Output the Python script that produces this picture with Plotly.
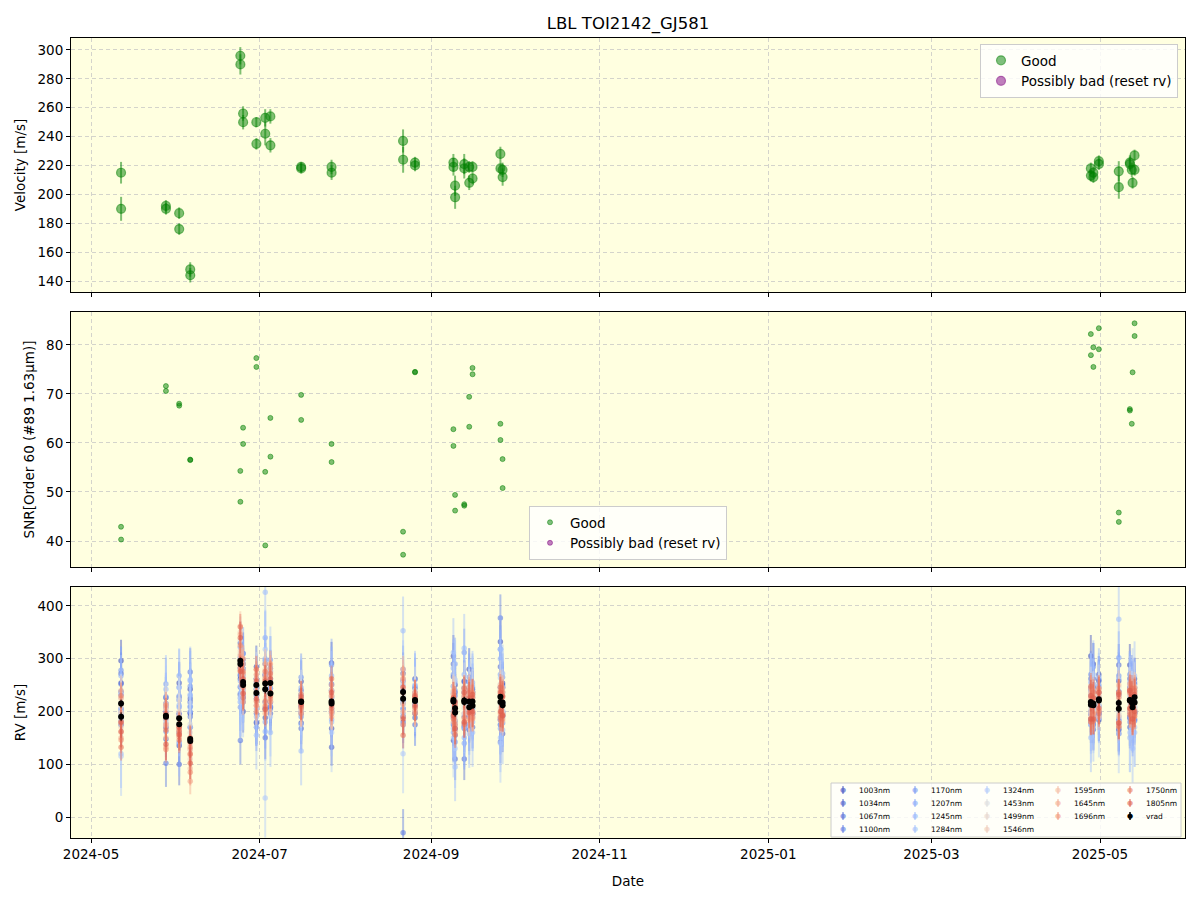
import plotly.graph_objects as go
from plotly.subplots import make_subplots

# ---------------- data ----------------
dates = [
    "2024-05-11 20:30", "2024-05-11 21:00", "2024-05-28 02:00", "2024-05-28 02:30",
    "2024-06-01 21:00", "2024-06-01 21:30", "2024-06-05 21:00", "2024-06-05 21:30",
    "2024-06-24 00:00", "2024-06-24 00:30", "2024-06-25 00:00", "2024-06-25 00:30",
    "2024-06-29 19:00", "2024-06-29 19:30", "2024-07-03 00:00", "2024-07-03 00:30",
    "2024-07-04 21:00", "2024-07-04 21:30", "2024-07-16 00:00", "2024-07-16 00:30",
    "2024-07-27 00:00", "2024-07-27 00:30", "2024-08-21 21:00", "2024-08-21 21:30",
    "2024-08-26 04:30", "2024-08-26 05:00", "2024-09-09 02:00", "2024-09-09 02:30",
    "2024-09-09 16:30", "2024-09-09 17:00", "2024-09-13 00:00", "2024-09-13 00:30",
    "2024-09-14 19:00", "2024-09-14 19:30", "2024-09-16 00:00", "2024-09-16 00:30",
    "2024-09-26 02:00", "2024-09-26 02:30", "2024-09-26 21:00", "2024-09-26 21:30",
    "2025-04-27 16:30", "2025-04-27 17:00", "2025-04-28 14:00", "2025-04-28 14:30",
    "2025-04-30 14:00", "2025-04-30 14:30", "2025-05-07 19:00", "2025-05-07 19:30",
    "2025-05-11 19:00", "2025-05-11 19:30", "2025-05-12 12:00", "2025-05-12 19:00",
    "2025-05-13 12:00", "2025-05-13 12:30",
]
velocity = [215, 190, 192, 190, 187, 176, 148, 144, 296, 290, 256, 250, 250, 235, 253, 242,
            254, 234, 219, 218, 219, 215, 237, 224, 222, 220, 222, 219, 206, 198, 221, 218,
            219, 208, 219, 211, 228, 218, 217, 212, 218, 213, 215, 212, 223, 221, 216, 205,
            222, 221, 217, 208, 227, 217]
velocity_err = [7.5, 8.3, 4, 4, 4, 4, 5, 5, 6, 7, 5, 5, 3.5, 4, 6, 8, 5, 5, 3.5, 3.5, 5, 5,
                8, 9, 4, 4, 6, 6, 7, 8, 7, 7, 4, 5, 4, 4, 5, 5, 5, 6, 4, 4, 4, 4, 4, 4, 7, 8,
                5, 5, 5, 4, 4, 4]
snr = [42.9, 40.3, 71.6, 70.6, 68.0, 67.6, 56.5, 56.6, 54.3, 48.0, 63.1, 59.8, 77.3, 75.5,
       54.1, 39.1, 65.1, 57.2, 69.8, 64.7, 59.8, 56.1, 41.9, 37.2, 74.4, 74.5, 62.8, 59.4,
       49.4, 46.2, 47.5, 47.2, 69.4, 63.3, 75.3, 74.0, 63.9, 60.6, 56.7, 50.8, 82.2, 77.9,
       79.5, 75.5, 83.4, 79.1, 45.8, 43.9, 66.9, 66.6, 63.9, 74.4, 84.4, 81.8]

wavelengths = [1003, 1034, 1067, 1100, 1170, 1207, 1245, 1284, 1324, 1453, 1499, 1546,
               1595, 1645, 1696, 1750, 1805]
band_err = [40, 35, 40, 45, 45, 50, 55, 65, 75, 45, 35, 30, 28, 25, 25, 25, 30]

rv_1003 = [296, 254, 226, 170, 254, 135, 242, 196, 232, 262, 281, 200, 285, 178, 290, 188, 218, 262,
           257, 178, 292, 168, 272, 190, 196, 262, 305, 145, 182, 250, 258, 172, 280, 165, 195, 236,
           332, 175, 254, 192, 305, 180, 290, 190, 258, 184, 258, 165, 288, 190, 255, 170, 262, 198]
rv_1034 = [238, 175, 208, 148, 228, 160, 218, 170, 330, 268, 228, 290, 230, 262, 218, 270, 282, 208,
           232, 196, 240, 132, 258, 205, 244, 188, 266, 192, 236, 168, 245, 190, 240, 176, 242, 196,
           246, 184, 250, 158, 240, 186, 246, 175, 270, 200, 182, 238, 244, 187, 198, 238, 245, 185]
rv_1067 = [272, 205, 186, 215, 196, 100, 198, 224, 282, 246, 310, 218, 242, 196, 268, 150, 275, 196,
           240, 168, 200, 226, 215, 180, 230, 175, 290, 175, 218, 110, 256, 110, 230, 200, 226, 170,
           285, 142, 198, 216, 230, 200, 262, 166, 236, 195, 288, 158, 262, 170, 228, 180, 252, 196]
rv_1100 = [252, 182, 200, 102, 222, 194, 275, 190, 302, 145, 255, 232, 180, 262, 205, 242, 244, 205,
           208, 210, 252, 196, 222, -30, 220, 210, 248, 200, 230, 155, 236, 168, 256, 190, 238, 206,
           377, 186, 246, 196, 262, 195, 238, 205, 260, 210, 232, 168, 245, 198, 262, 190, 230, 202]
rv_1170 = [278, 200, 228, 162, 246, 140, 248, 210, 270, 208, 298, 225, 262, 170, 296, 206, 298, 210,
           265, 190, 250, 200, 280, 175, 248, 215, 270, 188, 240, 142, 312, 178, 265, 196, 246, 190,
           318, 190, 265, 178, 270, 195, 285, 200, 250, 188, 268, 185, 270, 180, 250, 160, 256, 182]
rv_1207 = [232, 190, 252, 178, 268, 208, 208, 230, 322, 225, 242, 310, 224, 205, 340, 180, 262, 218,
           225, 200, 288, 205, 240, 196, 260, 200, 235, 160, 290, 175, 228, 140, 246, 168, 232, 198,
           270, 168, 246, 200, 245, 175, 252, 178, 246, 198, 302, 190, 240, 202, 236, 172, 246, 208]
rv_1245 = [268, 196, 214, 190, 212, 222, 260, 200, 258, 235, 268, 236, 255, 190, 300, 162, 244, 235,
           245, 176, 268, 185, 250, 205, 212, 224, 282, 178, 255, 165, 270, 150, 238, 210, 255, 180,
           300, 175, 272, 190, 255, 175, 240, 192, 265, 195, 262, 176, 255, 190, 244, 182, 238, 196]
rv_1284 = [120, 205, 242, 210, 230, 142, 232, 258, 248, 218, 270, 230, 244, 155, 270, 426, 278, 160,
           125, 210, 230, 180, 353, 220, 250, 236, 312, 168, 214, 95, 320, 170, 255, 158, 250, 160,
           318, 150, 236, 165, 246, 150, 270, 170, 228, 212, 375, 180, 250, 150, 235, 130, 268, 160]
rv_1324 = [232, 115, 175, 212, 245, 190, 216, 170, 218, 228, 226, 240, 248, 212, 36, 318, 286, 190,
           230, 205, 240, 160, 120, 260, 236, 210, 238, 150, 260, 130, 196, 240, 224, 175, 200, 230,
           264, 140, 245, 200, 236, 178, 225, 196, 236, 188, 158, 228, 230, 160, 205, 245, 220, 170]
rv_1453 = [226, 198, 210, 186, 222, 168, 176, 150, 335, 305, 280, 262, 268, 232, 275, 238, 270, 236,
           234, 214, 238, 210, 262, 230, 240, 216, 248, 212, 222, 192, 248, 212, 236, 204, 236, 208,
           252, 214, 236, 204, 240, 206, 232, 204, 244, 214, 246, 196, 240, 214, 232, 200, 248, 210]
rv_1499 = [210, 182, 204, 178, 200, 166, 160, 128, 310, 280, 262, 242, 262, 222, 262, 226, 262, 222,
           226, 208, 230, 204, 255, 212, 232, 210, 236, 205, 214, 186, 236, 206, 232, 198, 230, 200,
           244, 208, 230, 198, 232, 200, 226, 200, 238, 208, 232, 194, 236, 208, 226, 194, 240, 206]
rv_1546 = [198, 170, 215, 172, 192, 158, 138, 110, 350, 315, 270, 232, 240, 218, 280, 214, 276, 220,
           222, 206, 228, 198, 246, 215, 228, 206, 232, 198, 212, 182, 226, 196, 228, 196, 226, 198,
           238, 205, 226, 196, 226, 196, 222, 198, 234, 204, 228, 190, 232, 204, 222, 192, 236, 204]
rv_1595 = [240, 160, 205, 150, 168, 152, 128, 92, 362, 298, 290, 236, 278, 210, 290, 204, 268, 228,
           224, 200, 240, 196, 270, 200, 232, 204, 240, 190, 212, 172, 240, 186, 230, 182, 232, 192,
           250, 190, 238, 182, 236, 190, 232, 186, 240, 202, 250, 180, 244, 198, 232, 182, 246, 198]
rv_1645 = [225, 150, 175, 132, 152, 162, 118, 68, 346, 306, 272, 218, 262, 200, 268, 196, 282, 218,
           214, 196, 250, 190, 280, 190, 226, 200, 232, 180, 218, 162, 232, 180, 246, 186, 228, 186,
           240, 184, 244, 192, 226, 180, 240, 192, 228, 190, 236, 170, 252, 200, 238, 190, 236, 190]
rv_1696 = [178, 146, 212, 128, 158, 172, 132, 85, 325, 278, 300, 246, 270, 212, 262, 220, 290, 224,
           232, 206, 230, 200, 262, 175, 236, 196, 226, 196, 204, 176, 228, 188, 240, 195, 236, 188,
           232, 196, 236, 186, 244, 186, 226, 196, 236, 200, 226, 178, 240, 205, 230, 186, 244, 196]
rv_1750 = [230, 132, 188, 165, 164, 146, 150, 120, 360, 284, 276, 226, 280, 220, 276, 210, 272, 230,
           222, 210, 262, 206, 236, 155, 226, 208, 218, 186, 210, 156, 244, 176, 236, 204, 226, 196,
           246, 188, 230, 194, 248, 180, 236, 182, 244, 196, 236, 172, 236, 194, 244, 180, 240, 192]
rv_1805 = [180, 162, 196, 138, 170, 156, 142, 102, 340, 276, 262, 234, 258, 224, 258, 204, 262, 236,
           228, 214, 236, 212, 246, 186, 230, 212, 226, 192, 218, 168, 236, 180, 226, 198, 232, 200,
           236, 200, 228, 192, 230, 186, 226, 186, 236, 206, 232, 178, 240, 206, 228, 186, 232, 200]

band_rv = [rv_1003, rv_1034, rv_1067, rv_1100, rv_1170, rv_1207, rv_1245, rv_1284, rv_1324,
           rv_1453, rv_1499, rv_1546, rv_1595, rv_1645, rv_1696, rv_1750, rv_1805]

# ---------------- styling helpers ----------------
FONT = "DejaVu Sans"
W, H = 1200, 900
BG = "#ffffe0"
GREEN = "rgba(0,128,0,0.5)"
PURPLE = "rgba(128,0,128,0.5)"

CW = [(0.0, (59, 76, 192)), (0.125, (98, 130, 234)), (0.25, (141, 176, 254)),
      (0.375, (184, 208, 249)), (0.5, (221, 221, 221)), (0.625, (245, 196, 173)),
      (0.75, (244, 154, 123)), (0.875, (222, 96, 77)), (1.0, (180, 4, 38))]


def coolwarm(t, a):
    for (t0, c0), (t1, c1) in zip(CW[:-1], CW[1:]):
        if t <= t1:
            f = (t - t0) / (t1 - t0)
            c = [round(c0[i] + f * (c1[i] - c0[i])) for i in range(3)]
            return f"rgba({c[0]},{c[1]},{c[2]},{a})"
    return f"rgba(180,4,38,{a})"


wl_min, wl_max = min(wavelengths), max(wavelengths)

fig = make_subplots(rows=3, cols=1, shared_xaxes=True)

# top panel
fig.add_trace(go.Scatter(
    x=dates, y=velocity, mode="markers", name="Good",
    marker=dict(size=9, color=GREEN, line=dict(color=GREEN, width=1.2)),
    error_y=dict(type="data", array=velocity_err, color=GREEN, thickness=2, width=0),
    legend="legend"), row=1, col=1)
fig.add_trace(go.Scatter(
    x=[None], y=[None], mode="markers", name="Possibly bad (reset rv)",
    marker=dict(size=9, color=PURPLE, line=dict(color=PURPLE, width=1.2)),
    legend="legend"), row=1, col=1)

# middle panel
fig.add_trace(go.Scatter(
    x=dates, y=snr, mode="markers", name="Good",
    marker=dict(size=5, color=GREEN, line=dict(color=GREEN, width=1)),
    legend="legend2"), row=2, col=1)
fig.add_trace(go.Scatter(
    x=[None], y=[None], mode="markers", name="Possibly bad (reset rv)",
    marker=dict(size=5, color=PURPLE, line=dict(color=PURPLE, width=1)),
    legend="legend2"), row=2, col=1)

# bottom panel
band_colors = []
for wl, vals, err in zip(wavelengths, band_rv, band_err):
    t = 0.88 * (wl - wl_min) / (wl_max - wl_min)
    col = coolwarm(t, 0.6)
    band_colors.append(col)
    fig.add_trace(go.Scatter(
        x=dates, y=vals, mode="markers", name=f"{wl}nm", showlegend=False,
        marker=dict(size=5.5, color=col, line=dict(width=0)),
        error_y=dict(type="constant", value=err, color=coolwarm(t, 0.45), thickness=2, width=0)),
        row=3, col=1)
fig.add_trace(go.Scatter(
    x=dates, y=velocity, mode="markers", name="vrad", showlegend=False,
    marker=dict(size=6, color="black"),
    error_y=dict(type="data", array=velocity_err, color="black", thickness=1, width=0)),
    row=3, col=1)

# ---------------- axes ----------------
grid = dict(showgrid=True, gridcolor="rgba(176,176,186,0.55)", griddash="4px,3px", gridwidth=1)
axis_common = dict(showline=True, linecolor="black", linewidth=1, mirror=True,
                   ticks="outside", ticklen=4, tickwidth=1, tickcolor="black", automargin=False,
                   zeroline=False, tickfont=dict(family=FONT, size=13.5, color="black"), **grid)

XD = [71 / W, 1185 / W]
xrange = ["2024-04-23 18:00", "2025-05-31 18:00"]
for i, ax in enumerate(["xaxis", "xaxis2", "xaxis3"]):
    fig.update_layout({ax: dict(domain=XD, type="date", range=xrange, tick0="2024-05-01",
                                dtick="M2", tickformat="%Y-%m", showticklabels=(i == 2),
                                **axis_common)})
fig.update_layout(xaxis3=dict(title=dict(text="Date", font=dict(family=FONT, size=13.5, color="black"))))

ydoms = [(38, 292), (312, 567), (587, 838)]
yranges = [[132.4, 308.3], [34.7, 86.7], [-39.8, 436]]
ydticks = [20, 10, 100]
ytitles = ["Velocity [m/s]", "SNR[Order 60 (#89 1.63μm)]", "RV [m/s]"]
for ax, (t0, t1), rng, dt, ttl in zip(["yaxis", "yaxis2", "yaxis3"], ydoms, yranges, ydticks, ytitles):
    fig.update_layout({ax: dict(domain=[1 - t1 / H, 1 - t0 / H], range=rng, dtick=dt,
                                title=dict(text=ttl, font=dict(family=FONT, size=13.5, color="black"),
                                           standoff=8),
                                **axis_common)})

# ---------------- bottom manual legend ----------------
shapes = [dict(type="rect", xref="paper", yref="paper", x0=831 / W, x1=1181 / W,
               y0=1 - 837 / H, y1=1 - 783 / H, fillcolor="rgba(255,255,255,0.8)",
               line=dict(color="rgba(204,204,204,1)", width=1), layer="above")]
annotations = []
legend_labels = [f"{wl}nm" for wl in wavelengths] + ["vrad"]
legend_colors = band_colors + ["black"]
col_layout = [0, 0, 0, 0, 1, 1, 1, 1, 2, 2, 2, 2, 3, 3, 3, 4, 4, 4]
row_layout = [0, 1, 2, 3, 0, 1, 2, 3, 0, 1, 2, 3, 0, 1, 2, 0, 1, 2]
mark_x = [843, 915, 987, 1058, 1130]
row_y = [790, 803, 816, 829]
for lab, colr, c, r in zip(legend_labels, legend_colors, col_layout, row_layout):
    mx, my = mark_x[c], row_y[r]
    shapes.append(dict(type="line", xref="paper", yref="paper", x0=mx / W, x1=mx / W,
                       y0=1 - (my + 4) / H, y1=1 - (my - 4) / H,
                       line=dict(color=colr, width=1.5), layer="above"))
    annotations.append(dict(xref="paper", yref="paper", x=mx / W, y=1 - my / H, text="●",
                            showarrow=False, xanchor="center", yanchor="middle",
                            font=dict(family=FONT, size=7, color=colr)))
    annotations.append(dict(xref="paper", yref="paper", x=(mx + 14) / W, y=1 - my / H, text=lab,
                            showarrow=False, xanchor="left", yanchor="middle",
                            font=dict(family=FONT, size=7.5, color="black")))

legend_style = dict(bgcolor="rgba(255,255,255,0.8)", bordercolor="rgba(204,204,204,1)",
                    borderwidth=1, font=dict(family=FONT, size=13.5, color="black"))
fig.update_layout(
    width=W, height=H,
    margin=dict(l=0, r=0, t=0, b=0, autoexpand=False),
    paper_bgcolor="white", plot_bgcolor=BG,
    font=dict(family=FONT, size=13.5, color="black"),
    title=dict(text="LBL TOI2142_GJ581", x=628 / W, y=1 - 23 / H, xanchor="center", yanchor="middle",
               font=dict(family=FONT, size=16.5, color="black")),
    legend=dict(x=1178 / W, y=1 - 44 / H, xanchor="right", yanchor="top", **legend_style),
    legend2=dict(x=628 / W, y=1 - 560 / H, xanchor="center", yanchor="bottom", **legend_style),
    shapes=shapes, annotations=annotations,
)

fig.write_html("out.html")
